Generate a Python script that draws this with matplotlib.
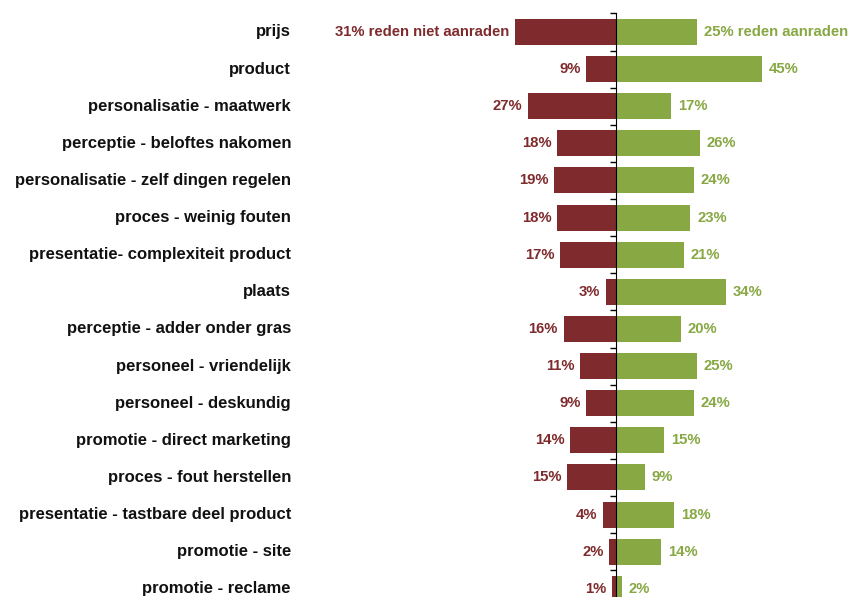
import numpy as np
import matplotlib.pyplot as plt

categories = [
    'prijs',
    'product',
    'personalisatie - maatwerk',
    'perceptie - beloftes nakomen',
    'personalisatie - zelf dingen regelen',
    'proces - weinig fouten',
    'presentatie- complexiteit product',
    'plaats',
    'perceptie - adder onder gras',
    'personeel - vriendelijk',
    'personeel - deskundig',
    'promotie - direct marketing',
    'proces - fout herstellen',
    'presentatie - tastbare deel product',
    'promotie - site',
    'promotie - reclame',
]
niet_aanraden = [31, 9, 27, 18, 19, 18, 17, 3, 16, 11, 9, 14, 15, 4, 2, 1]
aanraden = [25, 45, 17, 26, 24, 23, 21, 34, 20, 25, 24, 15, 9, 18, 14, 2]

RED = '#7f2b2d'
GREEN = '#87a843'
plt.rcParams['font.family'] = ['Liberation Sans', 'DejaVu Sans']


def main():
    fig = plt.figure(figsize=(8.5, 5.97), dpi=100)
    ax = fig.add_axes([0.0, -0.0175, 1.0, 0.9951])
    y = np.arange(len(categories))
    neg = -np.array(niet_aanraden)
    pos = np.array(aanraden)
    ax.barh(y, neg, height=0.7, color=RED, zorder=2)
    ax.barh(y, pos, height=0.7, color=GREEN, zorder=2)

    px = 3.25  # pixels per percent
    ax.set_xlim(-615.5 / px, 234.5 / px)
    ax.set_ylim(len(categories) - 0.5, -0.5)

    # value labels
    for i, (l, r) in enumerate(zip(niet_aanraden, aanraden)):
        ltxt = f'{l}% reden niet aanraden' if i == 0 else f'{l}%'
        rtxt = f'{r}% reden aanraden' if i == 0 else f'{r}%'
        ax.annotate(ltxt, (-l, i), xytext=(-4, 0), textcoords='offset points',
                    ha='right', va='center', color=RED, fontsize=10.7, fontweight='bold')
        ax.annotate(rtxt, (r, i), xytext=(5, 0), textcoords='offset points',
                    ha='left', va='center', color=GREEN, fontsize=10.7, fontweight='bold')
        ax.text(291 / 850, i, categories[i], transform=ax.get_yaxis_transform(),
                ha='right', va='center', color='#111111', fontsize=12, fontweight='bold')

    for side in ['top', 'right', 'bottom']:
        ax.spines[side].set_visible(False)
    ax.spines['left'].set_position(('data', 0))
    ax.spines['left'].set_zorder(3)
    ax.set_xticks([])
    ax.set_yticks(np.arange(len(categories) + 1) - 0.5)
    ax.set_yticklabels([])
    ax.tick_params(axis='y', direction='out', length=4, width=1)

    fig.savefig('out.png', dpi=100)


if __name__ == '__main__':
    main()
